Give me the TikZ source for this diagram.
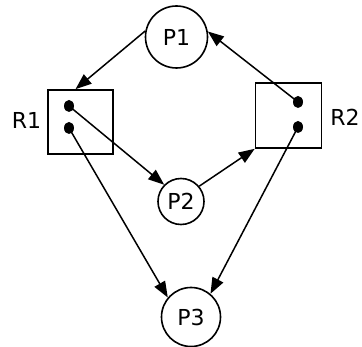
\documentclass[tikz,border=0pt]{standalone}
\usepackage{fontspec}
\setmainfont{DejaVu Sans}
\usetikzlibrary{arrows.meta,shapes.geometric,calc}
\begin{document}
\begin{tikzpicture}[x=1pt,y=-1pt,
  proc/.style={circle,draw,line width=1.6pt,inner sep=0pt,font=\fontsize{22}{26}\selectfont},
  res/.style={rectangle,draw,line width=1.6pt,inner sep=0pt},
  dot/.style={ellipse,fill=black,inner sep=0pt,minimum width=10pt,minimum height=12pt},
  lbl/.style={font=\fontsize{22}{26}\selectfont,inner sep=0pt},
  edge/.style={line width=1.5pt,-{Triangle[length=16pt,width=12pt]}}]
\useasboundingbox (0,0) rectangle (362,347);
\node[proc,minimum size=62pt] (P1) at (176.5,37) {P1};
\node[proc,minimum size=46pt] (P2) at (181,201.5) {P2};
\node[proc,minimum size=59pt] (P3) at (191,317) {P3};
\node[res,minimum width=65pt,minimum height=64pt] (R1) at (80.5,122) {};
\node[res,minimum width=66pt,minimum height=65pt] (R2) at (288.5,115.5) {};
\node[dot] (a1) at (69,106) {};
\node[dot] (a2) at (69,128) {};
\node[dot] (b1) at (298,102) {};
\node[dot] (b2) at (298,127) {};
\node[lbl] (L1) at (26.5,120.5) {R1};
\node[lbl] (L2) at (345,117) {R2};
\coordinate (t1) at ($(R1.north)+(-5,0)$);
\draw[edge] (P1.169) -- (t1);
\draw[edge] (a1.center) -- (P2.135);
\draw[edge] (a2.center) -- (P3.140);
\draw[edge] (P2.40) -- (R2.south west);
\draw[edge] (b1.center) -- (P1.10);
\draw[edge] (b2.center) -- (P3.50);
\end{tikzpicture}
\end{document}
